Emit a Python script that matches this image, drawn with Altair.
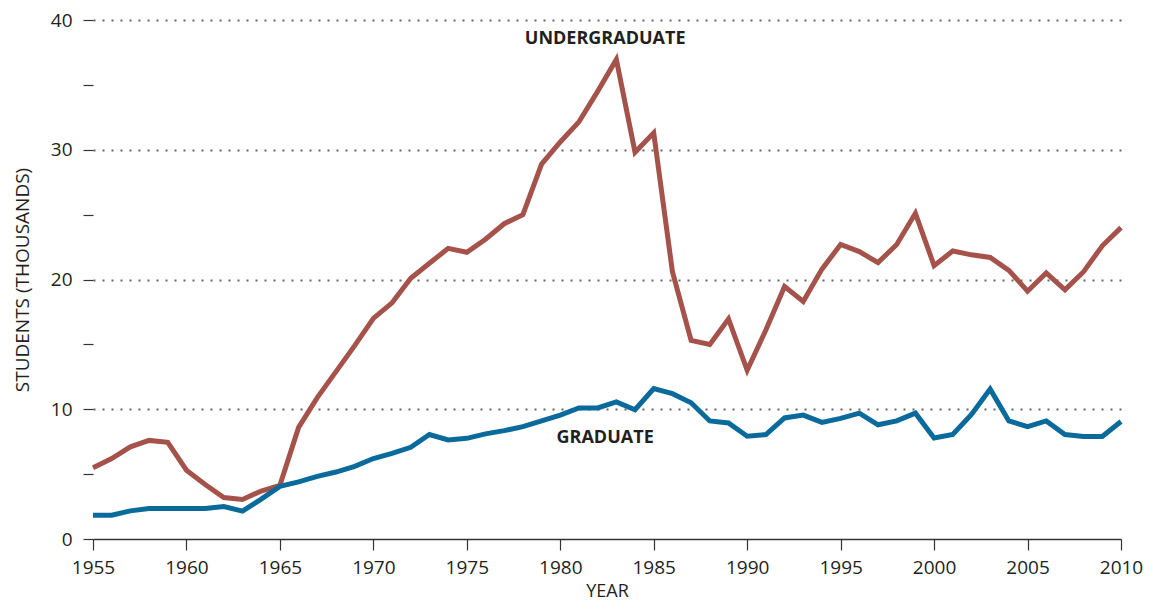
import altair as alt
import pandas as pd

years = list(range(1955, 2011))
undergraduate = [5.5, 6.2, 7.1, 7.6, 7.45, 5.3, 4.2, 3.2, 3.05, 3.7, 4.14, 8.6, 10.9, 12.9, 14.9, 17.0,
                 18.2, 20.1, 21.25, 22.4, 22.1, 23.1, 24.3, 25.0, 28.9, 30.6, 32.15, 34.5, 36.96, 29.8,
                 31.3, 20.6, 15.3, 15.0, 16.96, 13.0, 16.1, 19.46, 18.3, 20.8, 22.7, 22.15, 21.3, 22.7,
                 25.1, 21.07, 22.2, 21.9, 21.7, 20.7, 19.1, 20.5, 19.2, 20.6, 22.6, 24.0]
graduate = [1.84, 1.84, 2.17, 2.35, 2.35, 2.35, 2.35, 2.5, 2.15, 3.07, 4.06, 4.4, 4.83, 5.16, 5.6, 6.2,
            6.6, 7.07, 8.05, 7.64, 7.76, 8.1, 8.35, 8.66, 9.1, 9.55, 10.1, 10.1, 10.57, 9.96,
            11.6, 11.2, 10.5, 9.1, 8.94, 7.92, 8.05, 9.33, 9.55, 8.99, 9.3, 9.7, 8.8, 9.1,
            9.7, 7.79, 8.05, 9.6, 11.55, 9.1, 8.66, 9.1, 8.05, 7.9, 7.9, 9.06]

label_text = ["UNDERGRADUATE", "GRADUATE"]
label_year = [1982.4, 1982.4]
label_value = [38.5, 7.8]
series_names = ["Undergraduate", "Graduate"]
series_colors = ["#a5524a", "#0a6a9b"]

rows = []
for y, u, g in zip(years, undergraduate, graduate):
    rows.append({"year": y, "value": u, "series": "Undergraduate"})
    rows.append({"year": y, "value": g, "series": "Graduate"})
df = pd.DataFrame(rows)
labels = pd.DataFrame({"text": label_text, "year": label_year, "value": label_value})

FONT = "Open Sans"
TXT = "#231f20"

x_scale = alt.Scale(domain=[1955, 2010], nice=False, zero=False)
y_scale = alt.Scale(domain=[0, 40], nice=False)

x_axis = alt.Axis(values=list(range(1955, 2011, 5)), format="d", title="YEAR",
                  labelFontSize=19, titleFontSize=18, titleFontWeight="normal",
                  labelFont=FONT, titleFont=FONT, labelColor=TXT, titleColor=TXT,
                  labelFlush=False, labelOverlap=False,
                  tickSize=11, tickColor="#333", domainColor="#333", domainWidth=1.5,
                  tickWidth=1.2, labelPadding=8, titlePadding=5, grid=False)
y_axis = alt.Axis(values=list(range(0, 41, 5)), title="STUDENTS (THOUSANDS)",
                  labelExpr="datum.value % 10 === 0 ? datum.label : ''",
                  labelFontSize=19, titleFontSize=19, titleFontWeight="normal",
                  labelFont=FONT, titleFont=FONT, labelColor=TXT, titleColor=TXT,
                  labelFlush=False, labelOverlap=False,
                  tickSize=10, tickColor="#333", tickWidth=1.2, domain=False,
                  labelPadding=11, titlePadding=18,
                  grid=True, gridColor="#666", gridWidth=2, gridDash=[2, 7],
                  gridOpacity={"condition": {"test": "datum.value % 10 === 0 && datum.value > 0", "value": 1}, "value": 0})

lines = alt.Chart(df).mark_line(strokeWidth=5, strokeJoin="miter", strokeCap="butt").encode(
    x=alt.X("year:Q", scale=x_scale, axis=x_axis),
    y=alt.Y("value:Q", scale=y_scale, axis=y_axis),
    color=alt.Color("series:N", scale=alt.Scale(domain=series_names, range=series_colors), legend=None),
    detail="series:N",
)

text = alt.Chart(labels).mark_text(font=FONT, fontSize=18, fontWeight="bold", color=TXT).encode(
    x=alt.X("year:Q", scale=x_scale),
    y=alt.Y("value:Q", scale=y_scale),
    text="text:N",
)

chart = alt.layer(lines, text).properties(
    width=1028, height=519,
    autosize=alt.AutoSizeParams(type="none"),
    padding={"left": 85, "top": 12, "right": 22, "bottom": 64},
).configure_view(stroke=None)

chart.save("out.html", embed_options={"renderer": "svg", "actions": False})
